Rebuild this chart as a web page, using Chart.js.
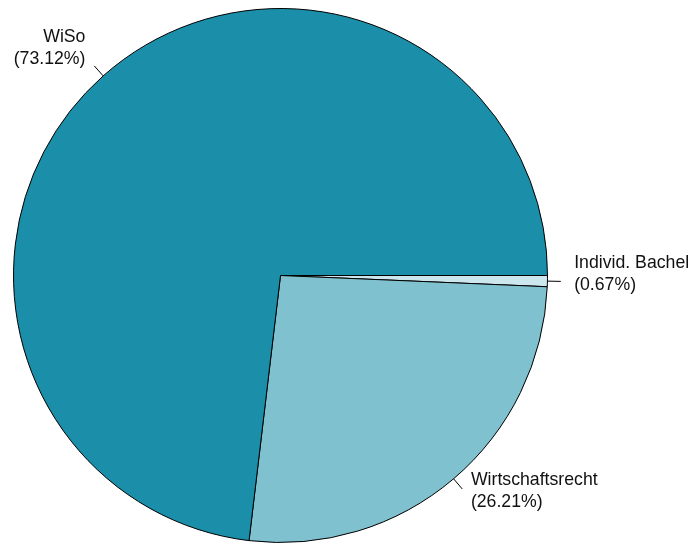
<!DOCTYPE html>
<html>
<head>
<meta charset="utf-8">
<script src="https://cdn.jsdelivr.net/npm/chart.js@4"></script>
<style>
    body { margin: 0; background: #fff; }
    canvas { display: block; }
</style>
</head>
<body>
<canvas id="pie" width="693" height="543"></canvas>
<script>
// slices in clockwise order, starting at 3 o'clock
const programmes = ['Individ. Bachel', 'Wirtschaftsrecht', 'WiSo'];
const shares = [0.67, 26.21, 73.12];
const sliceColors = ['#cce7ee', '#80c1cf', '#1b8fa9'];

// leader ticks and two-line labels outside each slice
const outsideLabels = {
    id: 'outsideLabels',
    afterDatasetsDraw(chart) {
        const ctx = chart.ctx;
        const arcs = chart.getDatasetMeta(0).data;
        ctx.save();
        ctx.font = '17.7px "Liberation Sans", Arial, sans-serif';
        ctx.fillStyle = '#111';
        ctx.strokeStyle = '#000';
        ctx.lineWidth = 1;
        ctx.textBaseline = 'alphabetic';
        arcs.forEach((arc, i) => {
            const mid = (arc.startAngle + arc.endAngle) / 2;
            const r = arc.outerRadius;
            const cos = Math.cos(mid);
            const sin = Math.sin(mid);
            ctx.beginPath();
            ctx.moveTo(arc.x + cos * r, arc.y + sin * r);
            ctx.lineTo(arc.x + cos * r * 1.05, arc.y + sin * r * 1.05);
            ctx.stroke();

            const tx = arc.x + cos * r * 1.1;
            const ty = arc.y + sin * r * 1.1;
            ctx.textAlign = cos < 0 ? 'right' : 'left';
            ctx.fillText(programmes[i], tx, ty - 14);
            ctx.fillText('(' + shares[i].toFixed(2) + '%)', tx, ty + 8);
        });
        ctx.restore();
    }
};

new Chart(document.getElementById('pie'), {
    type: 'pie',
    data: {
        labels: programmes,
        datasets: [{
            data: shares,
            backgroundColor: sliceColors,
            borderColor: '#000',
            borderWidth: 1,
            hoverOffset: 0
        }]
    },
    options: {
        responsive: false,
        animation: false,
        rotation: 90,
        layout: {
            padding: { left: 12, right: 144, top: 8, bottom: -1 }
        },
        plugins: {
            legend: { display: false },
            tooltip: { enabled: false }
        }
    },
    plugins: [outsideLabels]
});
</script>
</body>
</html>
